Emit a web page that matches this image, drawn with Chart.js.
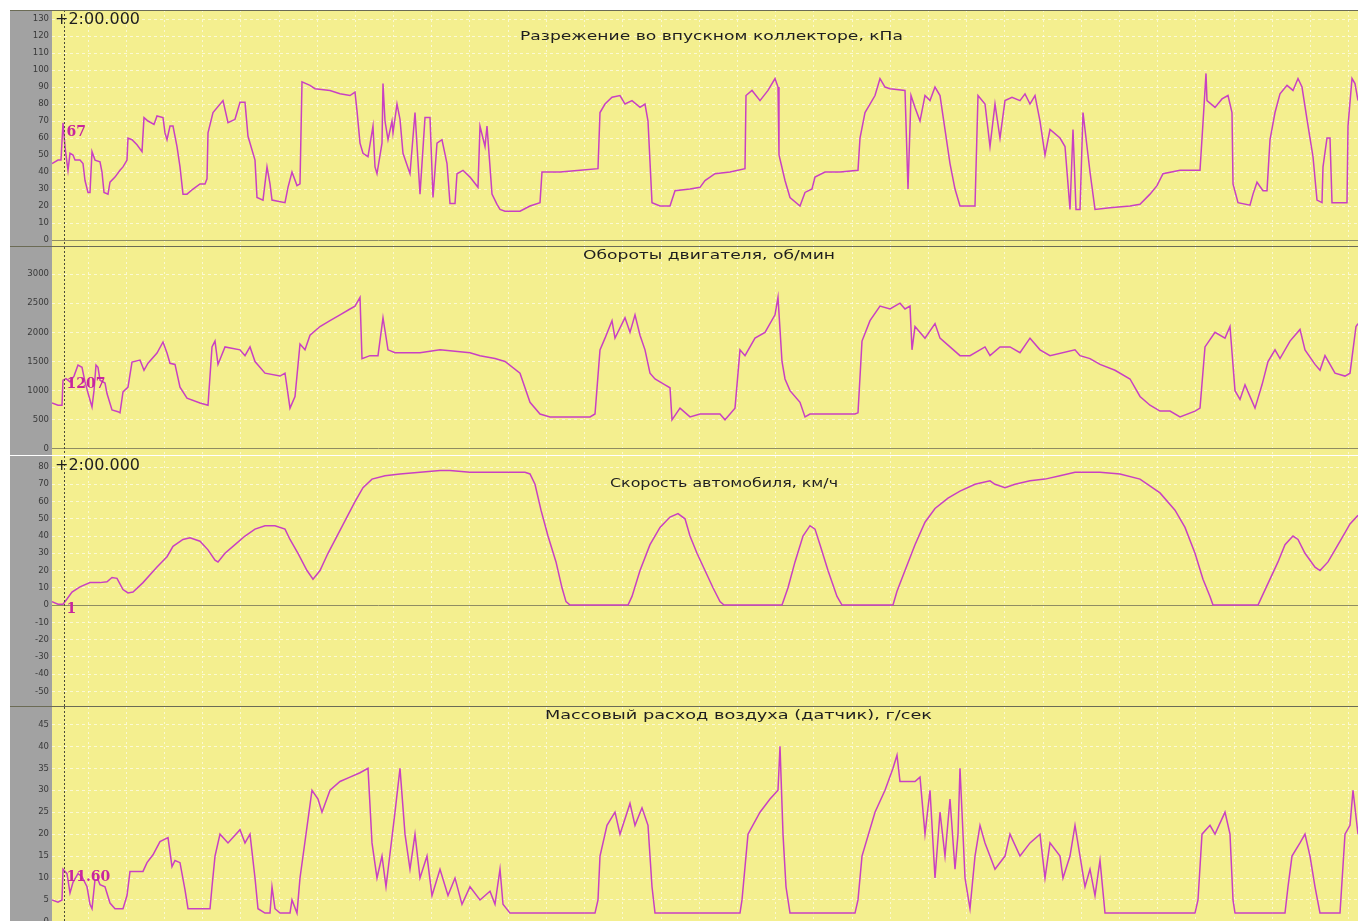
<!DOCTYPE html>
<html><head><meta charset="utf-8">
<script src="https://cdn.jsdelivr.net/npm/chart.js@4.4.1/dist/chart.umd.min.js"></script>
<style>
html,body{margin:0;padding:0;background:#fff;}
#wrap{position:relative;width:1358px;height:921px;overflow:hidden;background:#fff;}
canvas{position:absolute;left:10px;background:#a2a2a2;}
</style></head><body><div id="wrap">
<canvas id="c1" width="1348" height="237" style="top:10px"></canvas>
<canvas id="c2" width="1348" height="208" style="top:247px"></canvas>
<canvas id="c3" width="1348" height="251" style="top:456px"></canvas>
<canvas id="c4" width="1348" height="214" style="top:707px"></canvas>
</div>
<script>
// ---------- data (time in s of the log, value) ----------
const mapTicks = [0,10,20,30,40,50,60,70,80,90,100,110,120,130];
const rpmTicks = [0,500,1000,1500,2000,2500,3000];
const spdTicks = [-50,-40,-30,-20,-10,0,10,20,30,40,50,60,70,80];
const mafTicks = [0,5,10,15,20,25,30,35,40,45];

const titles = [
  "Разрежение во впускном коллекторе, кПа",
  "Обороты двигателя, об/мин",
  "Скорость автомобиля, км/ч",
  "Массовый расход воздуха (датчик), г/сек"
];
const cursorTime = 64;
const cursorLabel = "+2:00.000";
const cursorValues = [67, 1207, 1, 11.60];
const cursorTexts = ["67", "1207", "1", "11.60"];

const mapT = [52,58,61,63,65,66,68,70,73,75,80,83,85,88,90,92,95,100,102,104,108,110,115,120,123,127,128,132,137,142,144,148,154,157,163,165,167,170,173,177,180,183,187,193,200,205,207,208,213,223,228,235,240,245,248,255,257,263,267,270,272,285,288,292,297,300,302,310,315,330,340,350,355,357,360,363,368,373,375,377,382,383,385,388,392,393,397,400,403,410,415,420,425,430,433,437,442,447,450,455,457,463,470,478,480,485,487,492,497,500,505,520,530,540,542,560,580,598,600,605,612,620,625,632,640,645,648,652,660,670,675,690,700,705,715,730,745,746,752,760,768,775,778,779,785,790,800,805,812,815,825,840,858,860,865,870,875,880,885,890,905,908,911,915,920,925,930,935,940,945,950,955,960,975,978,985,990,995,1000,1005,1012,1020,1025,1030,1035,1040,1045,1050,1060,1065,1070,1073,1076,1080,1083,1090,1095,1110,1130,1140,1150,1157,1163,1180,1200,1203,1206,1207,1215,1222,1228,1232,1233,1238,1250,1253,1257,1263,1267,1270,1275,1280,1287,1293,1298,1302,1307,1313,1317,1322,1323,1327,1330,1332,1347,1348,1352,1355,1358];
const mapV = [45,47,47,69,55,50,41,51,50,47,47,45,35,28,28,52,47,46,40,28,27,34,37,41,43,47,60,59,56,52,72,70,68,73,72,63,59,67,67,55,43,27,27,30,33,33,36,63,75,82,69,71,81,81,61,47,25,23.5,43,33,23.5,22,31,40,32,33,93,91,89,88,86,85,87,76,57,51,49,67,43,39,57,92,70,59,70,63,80,71,51,39,75,27,72,72,25,57,59,45,21.5,21.5,39,41,37,31,67,55,67,27,21,18,17,17,20,22,40,40,41,42,75,80,84,85,80,82,78,80,70,22,20,20,29,30,31,35,39,40,42,85,88,82,88,95,90,50,35,25,20,28,30,37,40,40,41,60,75,80,85,95,90,89,88,30,85,78,70,85,82,90,85,65,45,30,20,20,85,80,55,80,60,82,84,82,86,80,85,70,50,65,60,55,18,65,18,18,75,40,18,19,20,21,27,32,39,41,41,69,98,82,78,83,85,75,33,22,20.5,27,34,29,29,59,75,86,91,88,95,90,71,49,23.5,22,43,60,60,22,22,67,95,92,82];

const rpmT = [52,58,62,63,66,70,74,78,82,85,88,92,94,96,98,100,105,107,112,118,120,123,128,132,140,144,148,157,163,167,170,175,180,187,200,208,212,215,218,225,240,245,250,255,265,280,285,290,295,300,305,310,320,330,340,350,355,360,362,370,378,383,388,395,420,440,470,480,495,505,520,530,540,550,590,595,600,605,612,615,625,630,635,640,645,650,655,665,670,672,680,690,700,720,725,735,740,745,755,765,775,778,782,785,790,800,805,810,855,858,862,870,880,890,900,905,910,912,915,925,935,940,950,960,970,985,990,1000,1010,1020,1030,1040,1050,1075,1080,1090,1100,1115,1130,1140,1150,1160,1170,1180,1195,1200,1205,1215,1225,1230,1235,1240,1245,1255,1262,1268,1275,1280,1290,1300,1305,1315,1320,1325,1335,1345,1350,1356,1358];
const rpmV = [790,750,750,1180,1207,1150,1250,1440,1400,1150,960,720,1000,1440,1400,1180,1130,950,670,640,620,980,1060,1490,1525,1350,1470,1645,1835,1645,1470,1450,1060,870,790,750,1750,1850,1450,1750,1700,1600,1750,1500,1300,1250,1300,700,900,1800,1700,1950,2100,2200,2300,2400,2450,2600,1550,1600,1600,2250,1700,1650,1650,1700,1650,1600,1550,1500,1300,800,600,550,550,600,1700,1900,2200,1900,2250,2000,2300,1950,1700,1300,1200,1100,1050,500,700,550,600,600,500,700,1700,1600,1900,2000,2300,2600,1500,1200,1000,800,550,600,600,620,1850,2200,2450,2400,2500,2400,2450,1700,2100,1900,2150,1900,1750,1600,1600,1750,1600,1750,1750,1650,1900,1700,1600,1700,1600,1550,1450,1350,1200,900,750,650,650,550,650,700,1750,2000,1900,2100,1000,850,1100,700,1100,1500,1700,1550,1850,2050,1700,1450,1350,1600,1300,1250,1300,2100,2150];

const spdT = [52,58,63,67,72,80,90,100,107,112,117,123,128,133,143,157,167,173,183,190,200,208,215,218,225,235,245,255,265,275,285,290,298,307,313,320,328,337,346,355,363,372,385,400,420,440,450,470,525,530,535,541,548,556,562,566,570,628,632,640,650,660,670,678,685,690,697,705,713,720,724,782,788,795,803,810,815,820,828,837,842,893,897,905,915,925,935,948,960,975,990,995,1005,1015,1030,1045,1060,1075,1100,1120,1140,1160,1175,1185,1195,1203,1210,1213,1258,1262,1270,1278,1285,1293,1298,1305,1315,1320,1328,1335,1343,1350,1358];
const spdV = [2,0.5,0.5,3.5,7.5,10.5,13,13,13.5,16,15.5,9,7,7.5,13,22,28,34,38,39,37,32,26,25,30,35,40,44,46,46,44,38,30,20,15,20,30,40,50,60,68,73,75,76,77,78,78,77,77,76,70,55,40,25,10,2,0,0,5,20,35,45,51,53,50,40,30,20,10,2,0,0,10,25,40,46,44,35,20,5,0,0,8,20,35,48,56,62,66,70,72,70,68,70,72,73,75,77,77,76,73,65,55,45,30,15,5,0,0,5,15,25,35,40,38,30,22,20,25,32,40,47,52];

const mafT = [52,58,62,63,67,70,73,78,82,87,90,92,95,98,100,105,110,115,123,127,130,137,143,147,153,160,168,172,175,180,185,188,200,210,212,215,220,228,240,245,250,255,258,265,270,272,275,280,290,292,297,300,312,318,322,330,340,350,360,368,372,377,382,386,395,400,405,410,415,420,427,432,440,448,455,462,470,480,490,495,500,503,510,595,598,600,607,615,620,630,635,642,648,652,655,740,742,748,760,770,778,780,783,786,790,855,858,862,875,885,893,897,900,915,920,925,930,935,940,945,950,955,958,960,965,970,975,980,985,995,1005,1010,1020,1030,1040,1045,1050,1060,1063,1070,1075,1080,1085,1090,1095,1100,1105,1195,1198,1202,1210,1215,1225,1230,1233,1235,1285,1288,1292,1300,1305,1310,1315,1320,1340,1345,1350,1353,1358];
const mafV = [5,4.5,5,12,11,6.6,9,11,10.3,8,4,3,9.6,9.6,8.5,8,4.3,3,3,6,11.5,11.5,11.5,13.5,15.3,18.3,19.2,12.6,14,13.5,7.3,3,3,3,8,15,20,18,21,18,20,10,3,2,2,8,3,2,2,5,2,10,30,28,25,30,32,33,34,35,18,10,15,8,25,35,20,12,20,10,15,6,12,6,10,4,8,5,7,4,12,4,2,2,5,15,22,25,20,27,22,26,22,8,2,2,5,20,25,28,30,40,20,8,2,2,5,15,25,30,35,38,32,32,33,20,30,10,25,15,28,12,20,35,10,3,15,22,18,12,15,20,15,18,20,10,18,15,10,15,22,15,8,12,6,14,2,2,5,20,22,20,25,20,5,2,2,8,15,18,20,15,8,2,2,20,22,30,20];

// ---------- style ----------
const X_MIN = 52, X_MAX = 1358;
const xGridStart = 88, xGridStep = 38.2;
const YELLOW = '#f4ef8f';
const LINE = '#c940c2';
const GRID = 'rgba(255,255,255,0.6)';
const ZERO = '#8f8d62';
const xGrid = [];
for (let v = xGridStart; v < X_MAX; v += xGridStep) xGrid.push(v);

const panels = [
  {id:'c1', t:mapT, v:mapV, ticks:mapTicks, min:-4.1, max:135.3, title:titles[0], tl:520, tr:903, ty:37-10, cur:0, stamp:true, sepBottom:true, sepTop:true},
  {id:'c2', t:rpmT, v:rpmV, ticks:rpmTicks, min:-103, max:3463, title:titles[1], tl:583, tr:835, ty:256-247, cur:1, stamp:false},
  {id:'c3', t:spdT, v:spdV, ticks:spdTicks, min:-59.1, max:86.4, title:titles[2], tl:610, tr:838, ty:484-456, cur:2, stamp:true, sepBottom:true},
  {id:'c4', t:mafT, v:mafV, ticks:mafTicks, min:0.2, max:48.98, title:titles[3], tl:545, tr:932, ty:716-707, cur:3, stamp:false}
];

const bgPlugin = {
  id:'bg',
  beforeDraw(chart){
    const {ctx, chartArea:a} = chart;
    ctx.save(); ctx.fillStyle = YELLOW; ctx.fillRect(a.left, a.top, a.right-a.left, a.bottom-a.top); ctx.restore();
  }
};

function fitText(ctx, text, left, right, y){
  const w = ctx.measureText(text).width;
  const sx = (right - left) / w;
  ctx.save();
  ctx.translate(left, y);
  ctx.scale(sx, 1);
  ctx.textAlign = 'left';
  ctx.fillText(text, 0, 0);
  ctx.restore();
}

function overlay(p){
  return {
    id:'ov',
    afterDatasetsDraw(chart){
      const {ctx, chartArea:a, scales} = chart;
      const cx = Math.round(scales.x.getPixelForValue(cursorTime)) + 0.5;
      ctx.save();
      ctx.strokeStyle = '#4a4a3a'; ctx.lineWidth = 1; ctx.setLineDash([2,2]);
      ctx.beginPath(); ctx.moveTo(cx, a.top); ctx.lineTo(cx, a.bottom); ctx.stroke();
      ctx.setLineDash([]);
      // value at cursor
      ctx.fillStyle = '#c8259e';
      ctx.font = 'bold 14px "DejaVu Serif"';
      ctx.textAlign = 'left'; ctx.textBaseline = 'top';
      ctx.fillText(cursorTexts[p.cur], cx + 2, scales.y.getPixelForValue(cursorValues[p.cur]) - 1);
      // title
      ctx.fillStyle = '#1e1e1e';
      ctx.font = '13px "DejaVu Sans"';
      ctx.textBaseline = 'middle';
      fitText(ctx, p.title, p.tl - 10, p.tr - 10, p.ty);
      if (p.stamp) {
        ctx.fillStyle = '#1e1e1e';
        ctx.font = '15px "DejaVu Sans"';
        ctx.textBaseline = 'top';
        fitText(ctx, cursorLabel, a.left + 3, a.left + 88, 3);
      }
      ctx.fillStyle = '#6b6b55';
      if (p.sepBottom) ctx.fillRect(0, chart.height - 1, chart.width, 1);
      if (p.sepTop) ctx.fillRect(0, 0, chart.width, 1);
      ctx.restore();
    }
  };
}

panels.forEach(p => {
  new Chart(document.getElementById(p.id), {
    type:'line',
    data:{datasets:[{data:p.t.map((t,i)=>({x:t, y:p.v[i]})), borderColor:LINE, borderWidth:1.5, pointRadius:0, tension:0, fill:false}]},
    options:{
      responsive:false, animation:false, devicePixelRatio:1,
      layout:{padding:0},
      plugins:{legend:{display:false}, tooltip:{enabled:false}, title:{display:false}},
      scales:{
        x:{type:'linear', min:X_MIN, max:X_MAX,
           ticks:{display:false},
           grid:{color:GRID, drawTicks:false, lineWidth:1},
           border:{display:false, dash:[2,3]},
           afterFit(s){ s.height = 0; s.paddingLeft = 0; s.paddingRight = 0; },
           afterBuildTicks(s){ s.ticks = xGrid.map(v=>({value:v})); }},
        y:{type:'linear', min:p.min, max:p.max,
           afterFit(s){ s.width = 42; s.paddingTop = 0; s.paddingBottom = 0; },
           afterBuildTicks(s){ s.ticks = p.ticks.map(v=>({value:v})); },
           ticks:{font:{family:'DejaVu Sans', size:8.5}, color:'#3a3a3a', padding:3, autoSkip:false, callback:v=>String(v)},
           grid:{drawTicks:false, lineWidth:1, color:c => (c.tick && c.tick.value===0) ? ZERO : GRID},
           border:{display:false, dash:c => (c.tick && c.tick.value===0) ? [] : [3,3]}}
      }
    },
    plugins:[bgPlugin, overlay(p)]
  });
});
</script>
</body></html>
